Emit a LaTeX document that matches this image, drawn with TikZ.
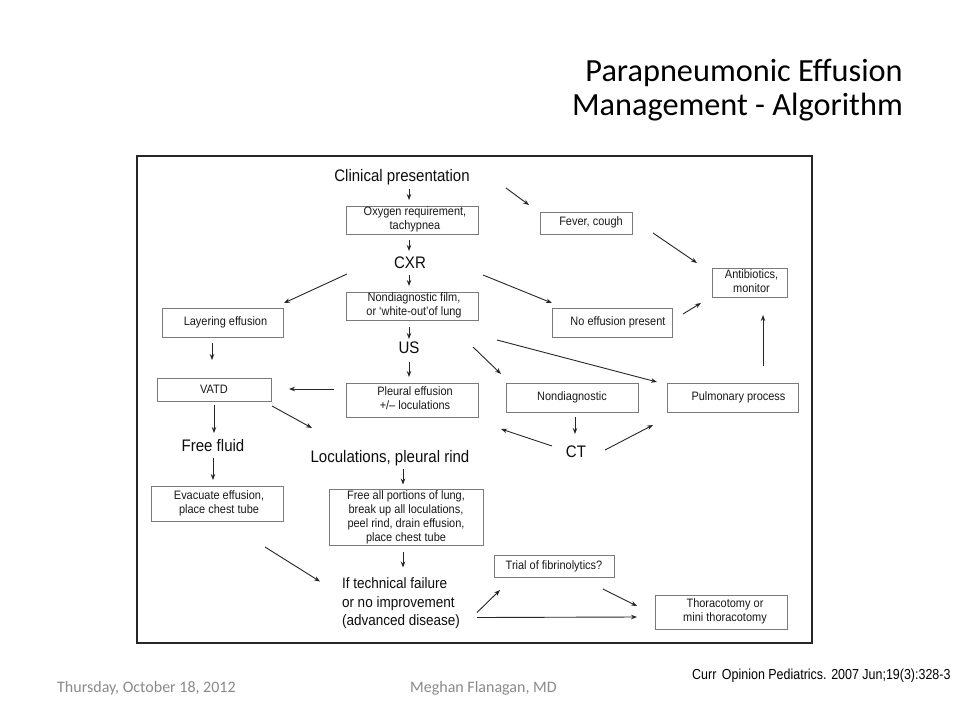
\documentclass[tikz,border=0pt]{standalone}
\usepackage{fontspec}
\usepackage{graphicx}
\setmainfont{Liberation Sans}
\newfontfamily\nsans[FakeStretch=0.9]{Liberation Sans}
\newfontfamily\calibri{Carlito}
\usetikzlibrary{arrows.meta}
\definecolor{boxgray}{HTML}{7A7A7A}
\definecolor{footgray}{HTML}{8A8A8A}
\newcommand\boxtxt[2]{\hspace*{#1}\begin{tabular}{@{}c@{}}#2\end{tabular}}
\begin{document}
\begin{tikzpicture}[x=1pt,y=-1pt,
  box/.style={draw=boxgray, line width=0.9pt, inner sep=0pt, outer sep=0pt,
              text=black!90, font=\nsans\fontsize{12.2}{14}\selectfont},
  lbl/.style={inner sep=0pt, outer sep=0pt, text=black!95, font=\nsans\fontsize{16.7}{18}\selectfont},
  arr/.style={draw=black!85, line width=0.9pt, -{Stealth[length=6pt,width=4.5pt]}},
  frame/.style={draw=black!85, line width=1.8pt}
]
\useasboundingbox (0,0) rectangle (960,720);
\fill[white] (0,0) rectangle (960,720);

% title
\node[anchor=east, align=right, inner sep=0pt, font=\calibri\fontsize{32.3}{34.5}\selectfont] (title) at (903,90)
  {Parapneumonic Effusion\\Management - Algorithm};

% frame
\node[frame, minimum width=675pt, minimum height=487pt, inner sep=0pt] (fr) at (474.5,399.5) {};

% text labels
\node[lbl] (clin) at (402,177) {Clinical presentation};
\node[lbl] (cxr) at (410,263) {CXR};
\node[lbl] (us) at (409,348) {US};
\node[lbl] (freefl) at (213,446) {Free fluid};
\node[lbl] (locul) at (390,458) {Loculations, pleural rind};
\node[lbl] (ct) at (576,452) {CT};
\node[inner sep=0pt, outer sep=0pt, anchor=west, align=left, text=black!95, font=\nsans\fontsize{15}{18.5}\selectfont] (fail) at (342,603.5)
  {If technical failure\\or no improvement\\(advanced disease)};

% boxes
\node[box, minimum width=132pt, minimum height=28pt] (oxy) at (412,220) {\boxtxt{6pt}{Oxygen requirement,\\tachypnea}};
\node[box, minimum width=132pt, minimum height=28pt] (film) at (412,306) {\boxtxt{4pt}{Nondiagnostic film,\\or ‘white-out’of lung}};
\node[box, minimum width=132pt, minimum height=34pt] (pleural) at (412,400) {\boxtxt{6pt}{Pleural effusion\\+/– loculations}};
\node[box, minimum width=121pt, minimum height=29pt] (layer) at (222.5,322.5) {\boxtxt{6pt}{Layering effusion}};
\node[box, minimum width=114pt, minimum height=23pt] (vatd) at (214,389.5) {VATD};
\node[box, minimum width=132pt, minimum height=35pt] (evac) at (217,503.5) {\boxtxt{4pt}{Evacuate effusion,\\place chest tube}};
\node[box, minimum width=154pt, minimum height=55pt] (free) at (406,517.5)
  {\boxtxt{0pt}{Free all portions of lung,\\break up all loculations,\\peel rind, drain effusion,\\place chest tube}};
\node[box, minimum width=92pt, minimum height=22pt] (fever) at (586,223) {\boxtxt{10pt}{Fever, cough}};
\node[box, minimum width=75pt, minimum height=29pt] (anti) at (749.5,282.5) {\boxtxt{4pt}{Antibiotics,\\monitor}};
\node[box, minimum width=120pt, minimum height=29pt] (noeff) at (612,322.5) {\boxtxt{12pt}{No effusion present}};
\node[box, minimum width=132pt, minimum height=29pt] (nondiag) at (572,397.5) {Nondiagnostic};
\node[box, minimum width=131pt, minimum height=29pt] (pulm) at (732.5,397.5) {\boxtxt{12pt}{Pulmonary process}};
\node[box, minimum width=120pt, minimum height=22pt] (trial) at (554,566) {Trial of fibrinolytics?};
\node[box, minimum width=132pt, minimum height=34pt] (thor) at (721,612) {\boxtxt{8pt}{Thoracotomy or\\mini thoracotomy}};

% connectors
\draw[arr] ([shift={(7,12)}]clin.center) -- ([shift={(-3,-6)}]oxy.north);
\draw[arr] ([shift={(-3,6)}]oxy.south) -- ([shift={(-1,-12)}]cxr.center);
\draw[arr] ([shift={(-1,12)}]cxr.center) -- ([shift={(-3,-6)}]film.north);
\draw[arr] ([shift={(-3,7)}]film.south) -- ([shift={(0,-9)}]us.center);
\draw[arr] ([shift={(0,14)}]us.center) -- ([shift={(-3,-6)}]pleural.north);
\draw[arr] ([shift={(-63,11)}]cxr.center) -- ([shift={(1,-5)}]layer.north east);
\draw[arr] ([shift={(-10.5,6)}]layer.south) -- ([shift={(-2,-18)}]vatd.north);
\draw[arr] ([shift={(-12,-11)}]pleural.west) -- ([shift={(18,-0.5)}]vatd.east);
\draw[arr] ([shift={(1,5)}]vatd.south east) -- ([shift={(-78,-30)}]locul.center);
\draw[arr] ([shift={(0,4)}]vatd.south) -- ([shift={(1,-13)}]freefl.center);
\draw[arr] ([shift={(0,12)}]freefl.center) -- ([shift={(-4,-6)}]evac.north);
\draw[arr] ([shift={(13,11)}]locul.center) -- ([shift={(-3,-5)}]free.north);
\draw[arr] ([shift={(-3,6)}]free.south) -- ([shift={(61,-36)}]fail.west);
\draw[arr] ([shift={(48,26)}]evac.south) -- ([shift={(-22,-22)}]fail.west);
\draw[arr] ([shift={(104,11)}]clin.center) -- ([shift={(-11,-7)}]fever.north west);
\draw[arr] ([shift={(21,-1)}]fever.south east) -- ([shift={(-15,-5)}]anti.north west);
\draw[arr] ([shift={(73,12)}]cxr.center) -- ([shift={(0,-5)}]noeff.north west);
\draw[arr] ([shift={(11,-8.5)}]noeff.east) -- ([shift={(-11,6)}]anti.south west);
\draw[arr] ([shift={(64,-1)}]us.center) -- ([shift={(-5,-9)}]nondiag.north west);
\draw[arr] ([shift={(88,-8)}]us.center) -- ([shift={(-10,-1)}]pulm.north west);
\draw[arr] ([shift={(30.5,-17)}]pulm.north) -- ([shift={(13.5,18)}]anti.south);
\draw[arr] ([shift={(3,5)}]nondiag.south) -- ([shift={(-1,-18)}]ct.center);
\draw[arr] ([shift={(-24,-6)}]ct.center) -- ([shift={(23,29)}]pleural.east);
\draw[arr] ([shift={(29,-2)}]ct.center) -- ([shift={(-14,13)}]pulm.south west);
\draw[arr] ([shift={(135,9)}]fail.west) -- ([shift={(6,13)}]trial.south west);
\draw[arr] ([shift={(-11,12)}]trial.south east) -- ([shift={(-18,-6)}]thor.west);
\draw[arr] ([shift={(135,14)}]fail.west) -- ([shift={(-18,5)}]thor.west);

% footer
\node[anchor=west, inner sep=0pt, text=footgray, font=\calibri\fontsize{16}{18}\selectfont] (date) at (57,688) {Thursday, October 18, 2012};
\node[anchor=west, inner sep=0pt, text=footgray, font=\calibri\fontsize{16}{18}\selectfont] (author) at (410,688) {Meghan Flanagan, MD};
\node[anchor=west, inner sep=0pt, font=\fontsize{14.5}{16}\selectfont] (cite) at (692,676)
  {\scalebox{0.86}[1]{Curr\, Opinion Pediatrics. 2007 Jun;19(3):328-3}};
\end{tikzpicture}
\end{document}
